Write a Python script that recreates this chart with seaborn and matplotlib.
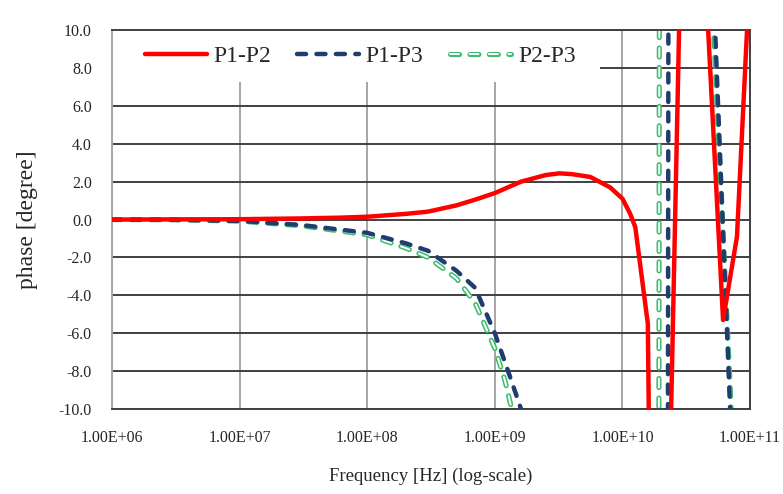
import numpy as np
import pandas as pd
import matplotlib
matplotlib.use("Agg")
import matplotlib.pyplot as plt
from matplotlib.patches import Rectangle
from matplotlib.legend_handler import HandlerTuple
import seaborn as sns

# phase difference between ports
# values beyond +-10 are off-scale points (clipped by the axis)
f_p12 = [1e6, 3e6, 1e7, 3e7, 6e7, 1e8, 2e8, 3e8, 5e8, 7e8, 1e9, 1.6e9, 2.5e9,
         3.2e9, 4e9, 5.6e9, 8e9, 1e10, 1.15e10, 1.26e10, 1.58e10, 1.63e10,
         10**10.375, 10**10.4495, 10**10.656, 10**10.788, 10**10.897,
         10**10.976, 1e11]
p12 = [0.0, 0.01, 0.02, 0.06, 0.1, 0.15, 0.3, 0.42, 0.75, 1.05, 1.4, 2.0, 2.35,
       2.44, 2.4, 2.25, 1.7, 1.1, 0.3, -0.4, -5.5, -14.0,
       -12.0, 12.0, 12.0, -5.3, -0.9,
       10.0, 14.0]

f_p13 = [1e6, 3e6, 1e7, 3e7, 1e8, 2e8, 3e8, 5e8, 7e8, 1e9, 1.3e9, 1.7e9,
         1.9e9, 10**10.356, 10**10.360, 10**10.714, 10**10.855, 1e11]
p13 = [0.0, -0.01, -0.07, -0.28, -0.7, -1.25, -1.65, -2.7, -3.6, -6.0, -8.2, -10.5,
       -12.0, -12.0, 12.0, 12.0, -12.0, -12.0]

f_p23 = [1e6, 3e6, 1e7, 3e7, 1e8, 2e8, 3e8, 5e8, 7e8, 1e9, 1.2e9, 1.4e9,
         1.5e9, 10**10.285, 10**10.289, 10**10.70, 10**10.865, 1e11]
p23 = [0.0, -0.01, -0.08, -0.32, -0.8, -1.5, -2.0, -3.1, -4.4, -6.8, -8.5, -10.4,
       -12.0, -12.0, 12.0, 12.0, -12.0, -12.0]

xticks = [1e6, 1e7, 1e8, 1e9, 1e10, 1e11]
xtick_labels = ["1.00E+06", "1.00E+07", "1.00E+08", "1.00E+09", "1.00E+10", "1.00E+11"]
yticks = [-10, -8, -6, -4, -2, 0, 2, 4, 6, 8, 10]

df12 = pd.DataFrame({"f": f_p12, "phase": p12})
df13 = pd.DataFrame({"f": f_p13, "phase": p13})
df23 = pd.DataFrame({"f": f_p23, "phase": p23})

sns.set_style("white")
plt.rcParams["font.family"] = ["Liberation Serif", "DejaVu Serif"]
plt.rcParams["lines.scale_dashes"] = False

fig = plt.figure(figsize=(7.83, 4.94), dpi=100)
ax = fig.add_axes([0.143, 0.172, 0.815, 0.767])

red = "#ff0000"
blue = "#1f3d6e"
green = "#40bb70"
dash = (6.5, 7.5)

sns.lineplot(data=df12, x="f", y="phase", ax=ax, color=red, lw=3.2,
             estimator=None, sort=False, label="P1-P2", zorder=4)
l12 = ax.lines[-1]

sns.lineplot(data=df13, x="f", y="phase", ax=ax, color=blue, lw=3.2,
             estimator=None, sort=False, label="P1-P3", zorder=3)
l13 = ax.lines[-1]
l13.set_dashes(dash)
l13.set_dash_capstyle("round")

# outlined green dashes: thick green dashed line with a thinner white one on top
sns.lineplot(data=df23, x="f", y="phase", ax=ax, color=green, lw=3.7,
             estimator=None, sort=False, label="P2-P3", zorder=2)
l23 = ax.lines[-1]
l23.set_dashes(dash)
l23.set_dash_capstyle("round")
l23w, = ax.plot(f_p23, p23, color="white", lw=1.4, dashes=dash,
                dash_capstyle="round", zorder=2.1)

ax.set_xscale("log")
ax.set_xlim(1e6, 1e11)
ax.set_ylim(-10, 10)
ax.set_xticks(xticks)
ax.set_xticklabels(xtick_labels)
ax.minorticks_off()
ax.set_yticks(yticks)
ax.set_yticklabels([f"{v:.1f}" for v in yticks])

ax.grid(axis="y", color="#404040", lw=1.4)
ax.grid(axis="x", color="#a6a6a6", lw=1.4)
ax.set_axisbelow(True)
for s in ["top", "right", "bottom"]:
    ax.spines[s].set_color("#404040")
    ax.spines[s].set_linewidth(1.4)
ax.spines["left"].set_color("#a6a6a6")
ax.spines["left"].set_linewidth(1.4)

ax.tick_params(axis="y", length=5, width=1.2, color="#a6a6a6", labelsize=11.5, pad=9.5)
ax.tick_params(axis="x", length=0, labelsize=11.5, pad=15)

ax.set_xlabel("Frequency [Hz] (log-scale)", fontsize=13.5, labelpad=16)
ax.set_ylabel("phase [degree]", fontsize=17, labelpad=15)

# white box behind the legend hides the grid there
ax.add_patch(Rectangle((0, 0.863), 0.765, 0.137, transform=ax.transAxes,
                       facecolor="white", edgecolor="none", zorder=1.5))

ax.legend([l12, l13, (l23, l23w)], ["P1-P2", "P1-P3", "P2-P3"],
          handler_map={tuple: HandlerTuple(ndivide=1, pad=0)},
          loc="center left", bbox_to_anchor=(0.052, 0.931), ncol=3,
          frameon=False, fontsize=17, handlelength=2.6, handletextpad=0.3,
          columnspacing=1.1, borderpad=0, borderaxespad=0)

fig.savefig("out.png", dpi=100)
